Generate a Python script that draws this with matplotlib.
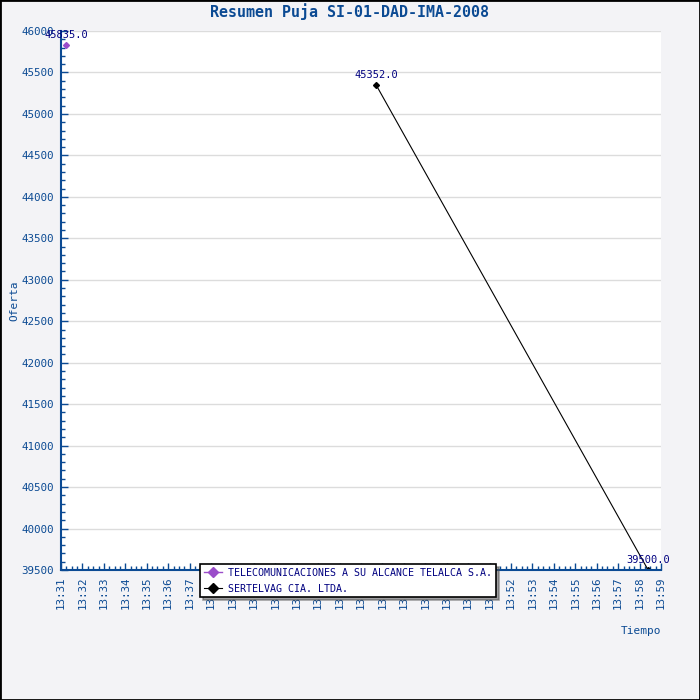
import pandas as pd
import matplotlib
matplotlib.use('Agg')
import matplotlib.pyplot as plt
import matplotlib.dates as mdates
from matplotlib.patches import Rectangle

# data
telalca_times = ['2008-01-01 13:31:14']
telalca_values = [45835.0]
sertelvag_times = ['2008-01-01 13:45:42', '2008-01-01 13:58:24']
sertelvag_values = [45352.0, 39500.0]
series_names = ['TELECOMUNICACIONES A SU ALCANCE TELALCA S.A.', 'SERTELVAG CIA. LTDA.']

x_start = '2008-01-01 13:31:00'
x_end = '2008-01-01 13:59:00'
y_min, y_max, y_step = 39500, 46000, 500

blue = '#0b4a93'
navy = '#000080'
mono = 'DejaVu Sans Mono'

fig = plt.figure(figsize=(7, 7), dpi=100, facecolor='#f3f3f6')
fig.patches.append(Rectangle((0, 0), 1, 1, transform=fig.transFigure, fill=False,
                             edgecolor='black', linewidth=2, zorder=10))
ax = fig.add_axes([61 / 700, 130 / 700, 600 / 700, 539 / 700])
ax.set_facecolor('white')

t1 = pd.to_datetime(telalca_times)
t2 = pd.to_datetime(sertelvag_times)
ax.plot(t1, telalca_values, color='#9b4dca', marker='D', markersize=3, linewidth=1,
        label=series_names[0])
ax.plot(t2, sertelvag_values, color='black', marker='D', markersize=3, linewidth=0.8,
        label=series_names[1])

for t, v in list(zip(t1, telalca_values)) + list(zip(t2, sertelvag_values)):
    ax.annotate('%.1f' % v, (t, v), xytext=(0, 7), textcoords='offset points',
                ha='center', va='center', color=navy, fontsize=7.5, family=mono,
                annotation_clip=False)

ax.set_xlim(pd.Timestamp(x_start), pd.Timestamp(x_end))
ax.set_ylim(y_min, y_max)
ax.set_yticks(range(y_min, y_max + 1, y_step))
ax.yaxis.set_minor_locator(plt.MultipleLocator(100))
ax.xaxis.set_major_locator(mdates.MinuteLocator())
ax.xaxis.set_minor_locator(mdates.SecondLocator(bysecond=[15, 30, 45]))
ax.xaxis.set_major_formatter(mdates.DateFormatter('%H:%M'))

ax.grid(axis='y', color='#dcdcdc', linewidth=1)
ax.set_axisbelow(True)
for side in ['top', 'right']:
    ax.spines[side].set_visible(False)
for side in ['left', 'bottom']:
    ax.spines[side].set_color(blue)
    ax.spines[side].set_linewidth(1.5)

ax.tick_params(which='both', direction='in', color=blue, labelcolor=blue, labelsize=7.8)
ax.tick_params(which='major', length=5, width=1)
ax.tick_params(which='minor', length=3, width=1)
ax.tick_params(axis='y', pad=5)
ax.tick_params(axis='x', pad=5)
for lbl in ax.get_xticklabels() + ax.get_yticklabels():
    lbl.set_family(mono)
for lbl in ax.get_xticklabels():
    lbl.set_rotation(90)

ax.set_ylabel('Oferta', color=blue, fontsize=8, family=mono)
ax.yaxis.set_label_coords(-0.07, 0.5)
fig.text(641 / 700, 1 - 631 / 700, 'Tiempo', color=blue, fontsize=8, family=mono,
         ha='center', va='center')
fig.text(0.5, 1 - 12 / 700, 'Resumen Puja SI-01-DAD-IMA-2008', color=blue,
         fontsize=10.8, fontweight='bold', family=mono, ha='center', va='center')

leg = ax.legend(loc='lower left', bbox_to_anchor=(200 / 700, 103 / 700),
                bbox_transform=fig.transFigure, borderaxespad=0, frameon=True,
                fancybox=False, shadow=True, borderpad=0.35, labelspacing=0.6,
                handlelength=1.8, handletextpad=0.7, markerscale=1.6,
                prop={'family': mono, 'size': 7.2})
leg.get_frame().set_edgecolor('black')
leg.get_frame().set_linewidth(1.2)
for txt in leg.get_texts():
    txt.set_color(navy)

fig.savefig('out.png', dpi=100, facecolor=fig.get_facecolor())
